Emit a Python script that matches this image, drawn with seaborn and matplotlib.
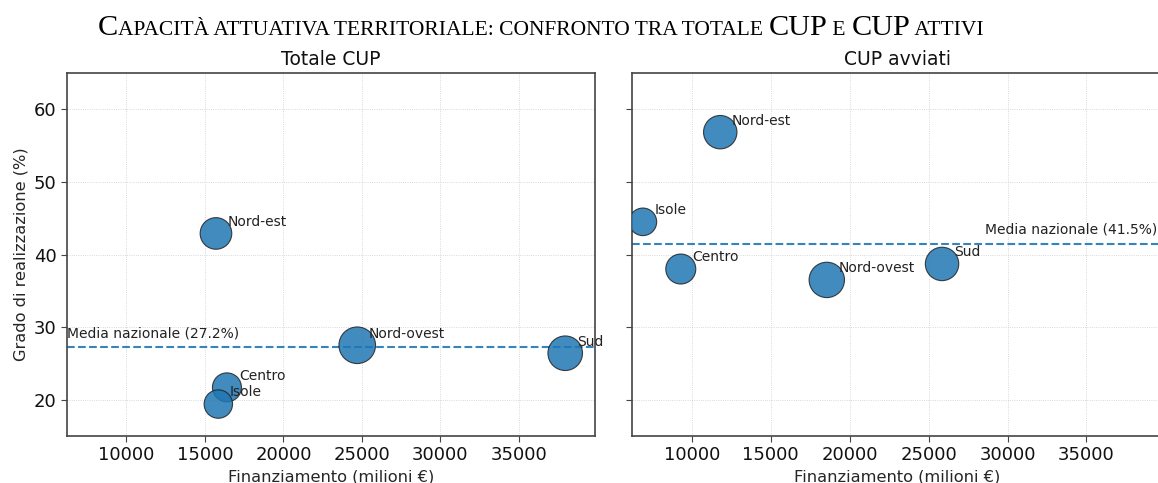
import numpy as np
import pandas as pd
import seaborn as sns
import matplotlib
matplotlib.use("Agg")
import matplotlib.pyplot as plt
from matplotlib.transforms import blended_transform_factory

# dati
regioni = ["Nord-ovest", "Nord-est", "Centro", "Sud", "Isole"]
fin_tot = [24700, 15700, 16400, 37950, 15850]
real_tot = [27.5, 42.9, 21.7, 26.4, 19.4]
peso_tot = [335, 250, 210, 299, 202]
fin_avv = [18550, 11800, 9300, 25850, 6900]
real_avv = [36.5, 56.85, 38.0, 38.7, 44.5]
peso_avv = [313, 279, 225, 279, 190]
medie = [27.2, 41.5]
titoli = ["Totale CUP", "CUP avviati"]

sns.set_style("ticks")
plt.rcParams["font.family"] = ["DejaVu Sans"]

blu = "#1f77b4"
fig = plt.figure(figsize=(11.58, 4.83), dpi=100)
ax1 = fig.add_axes([67 / 1158, 1 - 436 / 483, 528 / 1158, 363 / 483])
ax2 = fig.add_axes([632 / 1158, 1 - 436 / 483, 531 / 1158, 363 / 483], sharex=ax1, sharey=ax1)

df_tot = pd.DataFrame({"regione": regioni, "fin": fin_tot, "real": real_tot, "peso": peso_tot})
df_avv = pd.DataFrame({"regione": regioni, "fin": fin_avv, "real": real_avv, "peso": peso_avv})

xmin = min(fin_tot + fin_avv) * 0.9
xmax = max(fin_tot + fin_avv) * 1.05

for i, (ax, df, media, titolo) in enumerate(zip([ax1, ax2], [df_tot, df_avv], medie, titoli)):
    sns.scatterplot(data=df, x="fin", y="real", size="peso", sizes=(0, 829),
                    size_norm=(0, 400), color=blu, alpha=0.85, edgecolor="#222222",
                    linewidth=0.8, legend=False, ax=ax, zorder=3)
    for _, r in df.iterrows():
        ax.annotate(r["regione"], (r["fin"], r["real"]), xytext=(8.5, 5.5),
                    textcoords="offset points", fontsize=10, color="#222222", zorder=4)
    ax.axhline(media, color=blu, linestyle="--", linewidth=1.5, alpha=0.9, zorder=2)
    if i == 0:
        ax.text(xmin, media + 1, f"Media nazionale ({media}%)", fontsize=10,
                ha="left", va="bottom", color="#222222")
    else:
        # il pannello destro esce dal bordo: etichetta tenuta dentro la figura
        tr = blended_transform_factory(ax.transAxes, ax.transData)
        ax.text((1157 - 632) / 531, media + 1, f"Media nazionale ({media}%)", fontsize=10,
                ha="right", va="bottom", color="#222222", transform=tr)
    ax.set_title(titolo, fontsize=13.5, color="#111111")
    ax.set_xlabel("Finanziamento (milioni €)", fontsize=11.7)
    ax.grid(True, linestyle=":", linewidth=0.6, color="#cccccc")
    ax.tick_params(labelsize=13, length=4, color="#444444", labelcolor="#111111")
    for sp in ax.spines.values():
        sp.set_color("#444444")
        sp.set_linewidth(1.2)

ax1.set_xlim(xmin, xmax)
ax1.set_ylim(15, 65)
ax1.set_xticks([10000, 15000, 20000, 25000, 30000, 35000])
ax1.set_ylabel("Grado di realizzazione (%)", fontsize=11.7)
ax2.set_ylabel("")
ax2.tick_params(labelleft=False)

# titolo in maiuscoletto, composto a pezzi
pezzi = [("C", True), ("APACITÀ ATTUATIVA TERRITORIALE: CONFRONTO TRA TOTALE ", False),
         ("CUP", True), (" E ", False), ("CUP", True), (" ATTIVI", False)]
renderer = fig.canvas.get_renderer()
x = 98 / 1158
for testo, grande in pezzi:
    t = fig.text(x, 1 - 35 / 483, testo, fontsize=21.8 if grande else 15.5,
                 family="Liberation Serif", va="baseline", ha="left", color="black")
    bb = t.get_window_extent(renderer)
    x += bb.width / fig.bbox.width

fig.savefig("out.png", dpi=100)
